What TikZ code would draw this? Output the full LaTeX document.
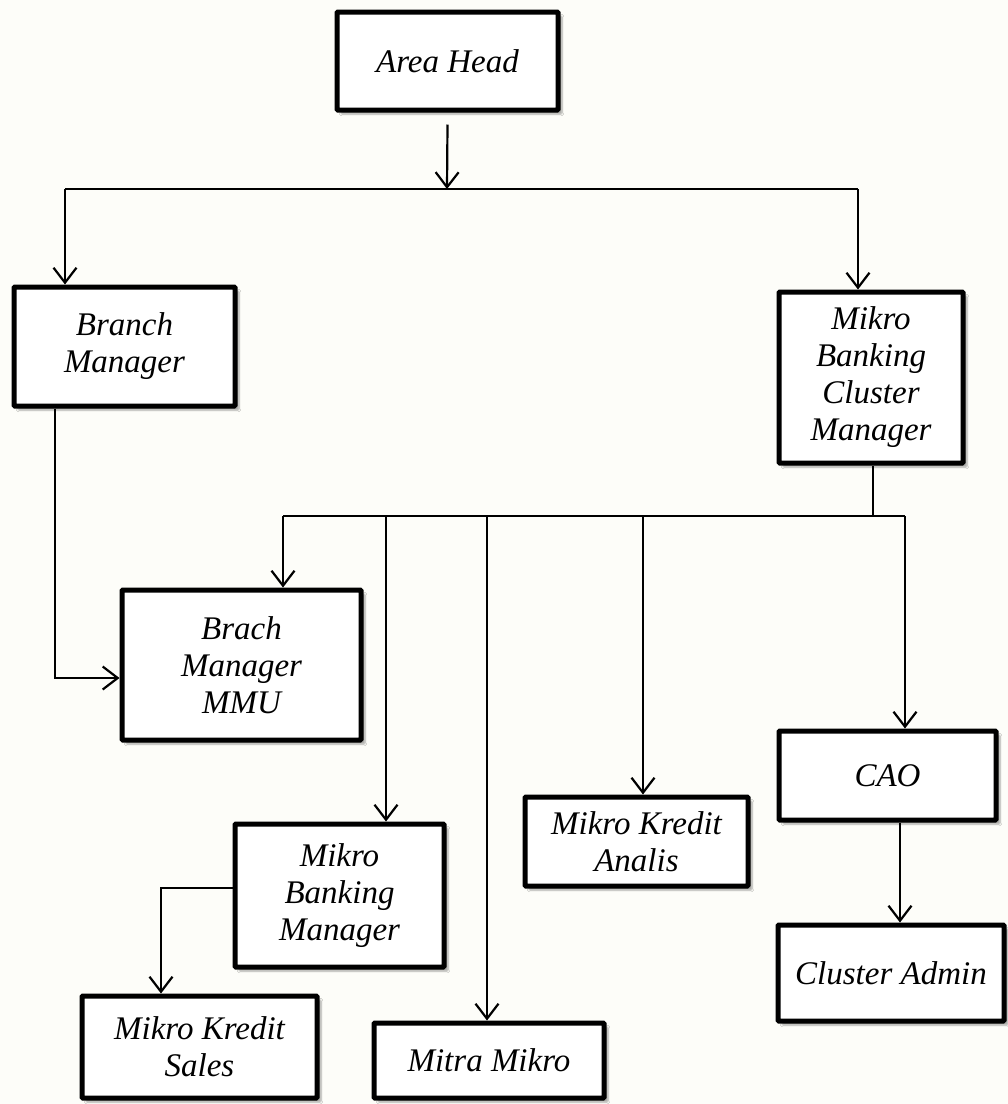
\documentclass[tikz,border=0pt]{standalone}
\usepackage{fontspec}
\setmainfont{Liberation Serif}
\usetikzlibrary{arrows.meta,shadows.blur,calc}
\begin{document}
\begin{tikzpicture}[x=1pt,y=-1pt,
  box/.style={draw=black, line width=5pt, fill=white, rounded corners=1pt,
    align=center, inner sep=0pt,
    font=\fontsize{33}{37}\selectfont\itshape,
    blur shadow={shadow xshift=4pt, shadow yshift=-4pt, shadow blur steps=6, shadow opacity=35}},
  conn/.style={draw=black, line width=2.2pt},
  arr/.style={conn, -{Straight Barb[length=15pt,width=23pt,line width=2.2pt]}}
]
\useasboundingbox[fill={rgb,255:red,253;green,253;blue,249}] (0,0) rectangle (1008,1104);

% nodes
\node[box, minimum width=221pt, minimum height=98pt]  (AH)  at (447.5,61)   {Area Head};
\node[box, minimum width=221pt, minimum height=119pt] (BM)  at (124.5,346.5) {Branch\\Manager};
\node[box, minimum width=184pt, minimum height=171pt] (MBCM) at (871,377.5) {Mikro\\Banking\\Cluster\\Manager};
\node[box, minimum width=239pt, minimum height=150pt] (BMM) at (241.5,665)  {Brach\\Manager\\MMU};
\node[box, minimum width=209pt, minimum height=143pt] (MBM) at (339.5,895.5) {Mikro\\Banking\\Manager};
\node[box, minimum width=223pt, minimum height=89pt]  (MKA) at (636.5,841.5) {Mikro Kredit\\Analis};
\node[box, minimum width=217pt, minimum height=89pt]  (CAO) at (887.5,775.5) {CAO};
\node[box, minimum width=226pt, minimum height=96pt]  (CA)  at (891,973)    {Cluster Admin};
\node[box, minimum width=235pt, minimum height=102pt] (MKS) at (199.5,1047)  {Mikro Kredit\\Sales};
\node[box, minimum width=230pt, minimum height=75pt]  (MM)  at (489,1060.5)  {Mitra Mikro};

% junction coordinates
\coordinate (t0) at (447,189);
\coordinate (tl) at (65,189);
\coordinate (tr) at (858,189);
\coordinate (bm) at (873,516);
\coordinate (b1) at (283,516);
\coordinate (b2) at (386,516);
\coordinate (b3) at (487,516);
\coordinate (b4) at (643,516);
\coordinate (b5) at (905,516);

% Area Head to the two managers
\draw[arr] ([yshift=-12pt]AH.south) -- (t0);
\draw[conn] (tl) -- (tr);
\draw[arr] (tl) -- (tl |- BM.north);
\draw[arr] (tr) -- (tr |- MBCM.north);

% Branch Manager to Brach Manager MMU
\draw[arr] ([xshift=-69.5pt]BM.south) |- ([yshift=-13pt]BMM.west);

% Mikro Banking Cluster Manager bus
\draw[conn] ([xshift=2pt]MBCM.south) -- (bm);
\draw[conn] (b1) -- (b5);
\draw[arr] (b1) -- (b1 |- BMM.north);
\draw[arr] (b2) -- (b2 |- MBM.north);
\draw[arr] (b3) -- (b3 |- MM.north);
\draw[arr] (b4) -- (b4 |- MKA.north);
\draw[arr] (b5) -- (b5 |- CAO.north);

% Mikro Banking Manager to Mikro Kredit Sales
\draw[arr] ([yshift=7.5pt]MBM.west) -| ([xshift=-38.5pt]MKS.north);

% CAO to Cluster Admin
\draw[arr] ([xshift=12.5pt]CAO.south) -- ([xshift=12.5pt]CAO.south |- CA.north);
\end{tikzpicture}
\end{document}
